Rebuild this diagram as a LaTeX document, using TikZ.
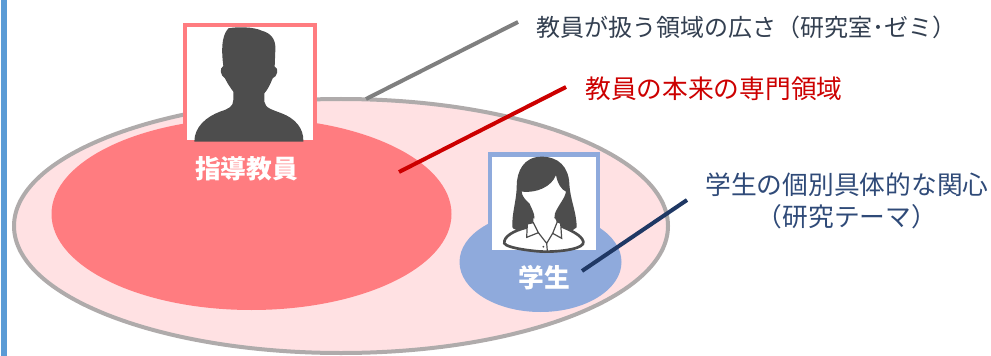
\documentclass[tikz,border=0pt]{standalone}
\usepackage{fontspec}
\setmainfont{Noto Sans CJK JP}
\definecolor{barblue}{HTML}{5B9BD5}
\definecolor{outerfill}{HTML}{FFE1E3}
\definecolor{outerline}{HTML}{AFABAB}
\definecolor{pinkred}{HTML}{FF7C80}
\definecolor{softblue}{HTML}{8FAADC}
\definecolor{navy}{HTML}{1F3864}
\definecolor{navytext}{HTML}{2F4A78}
\definecolor{darkred}{HTML}{CC0000}
\definecolor{silh}{HTML}{4D4D4D}
\definecolor{inktext}{HTML}{333F50}
\definecolor{linegray}{HTML}{7F7F7F}
\tikzset{
  lbl/.style={inner sep=0pt,font=\fontsize{18}{24}\selectfont,align=center},
  biglbl/.style={inner sep=0pt,font=\fontsize{19.3}{24}\selectfont,align=center},
  inlbl/.style={inner sep=0pt,font=\fontsize{19.3}{23}\selectfont\bfseries,text=white},
  leader/.style={line width=3pt},
  photo/.style={fill=white,line width=3pt},
  silhouette/.style={fill=silh,draw=none}
}
\begin{document}
\begin{tikzpicture}[x=0.75pt,y=-0.75pt]
\useasboundingbox (0,0) rectangle (991,356);
\fill[barblue] (1,0) rectangle (7,356);
\draw[fill=outerfill,draw=outerline,line width=3pt] (341,226) ellipse [x radius=327,y radius=127];
\fill[pinkred] (251.5,214) ellipse [x radius=200,y radius=96];
\fill[softblue] (540.5,262) ellipse [x radius=81,y radius=50];
% teacher photo
\path[photo,draw=pinkred] (185,25.5) -- (314.5,25.5) -- (314.5,142) -- (185,142) -- cycle;
\begin{scope}[shift={(170,10)},x=0.25pt,y=-0.25pt]
\fill[silhouette] (73,395) .. controls (73,350) and (110,320) .. (150,305)
 .. controls (175,297) and (190,290) .. (190,270)
 -- (190,245) .. controls (175,225) and (170,215) .. (165,205)
 .. controls (150,195) and (148,175) .. (160,168)
 .. controls (155,130) and (152,80) .. (175,55)
 .. controls (200,50) and (250,50) .. (275,62)
 .. controls (305,70) and (318,90) .. (316,120)
 -- (314,170) .. controls (328,175) and (322,200) .. (308,205)
 .. controls (300,225) and (292,240) .. (283,250)
 -- (283,275) .. controls (285,295) and (310,300) .. (335,310)
 .. controls (375,325) and (402,355) .. (400,395) -- cycle;
\end{scope}
% student photo
\path[photo,draw=softblue] (490,154.5) -- (597.5,154.5) -- (597.5,252) -- (490,252) -- cycle;
\begin{scope}[shift={(470,140)},x=0.25pt,y=-0.25pt]
\fill[silhouette] (215,50) .. controls (160,50) and (140,95) .. (140,140)
 .. controls (140,180) and (125,220) .. (127,262)
 .. controls (135,275) and (170,275) .. (190,255)
 .. controls (200,235) and (190,215) .. (178,190)
 .. controls (165,180) and (155,165) .. (155,155)
 .. controls (200,160) and (245,140) .. (258,105)
 .. controls (262,130) and (275,150) .. (288,155)
 .. controls (285,175) and (265,195) .. (255,220)
 .. controls (250,240) and (255,255) .. (270,260)
 .. controls (285,275) and (310,275) .. (320,262)
 .. controls (320,215) and (300,180) .. (298,130)
 .. controls (295,80) and (265,50) .. (215,50) -- cycle;
\draw[silh,line width=2pt,fill=white] (172,262)
 .. controls (130,272) and (100,290) .. (103,310)
 .. controls (110,325) and (200,335) .. (225,335)
 .. controls (280,335) and (345,325) .. (340,305)
 .. controls (335,285) and (300,270) .. (272,258)
 -- cycle;
\fill[white] (190,235) -- (255,235) -- (262,250) -- (230,310) -- (190,250) -- cycle;
\draw[silh,line width=0.9pt,fill=white] (172,252) -- (170,292) -- (205,278) -- (190,248) -- cycle;
\draw[silh,line width=0.9pt,fill=white] (272,250) -- (275,295) -- (248,280) -- (262,245) -- cycle;
\draw[silh,line width=0.9pt] (205,278) -- (230,310) -- (248,280);
\draw[silh,line width=0.9pt] (230,310) -- (232,333);
\fill[silh] (220,320) circle [radius=3];
\end{scope}
% labels
\node[inlbl] (teacher) at (246.5,169) {指導教員};
\node[inlbl] (student) at (544,278) {学生};
\node[lbl,text=inktext,anchor=west] (range) at (536,27) {教員が扱う領域の広さ（研究室･ゼミ）};
\node[biglbl,text=darkred,anchor=west] (core) at (585,89) {教員の本来の専門領域};
\node[biglbl,text=navytext] (interest) at (847,201) {学生の個別具体的な関心\\（研究テーマ）};
% leaders
\coordinate (a1) at (366,99);
\coordinate (a2) at (518,22);
\coordinate (b1) at (399,172);
\coordinate (b2) at (566,87);
\coordinate (c1) at (582,271);
\coordinate (c2) at (687,200);
\draw[leader,linegray] (a1) -- (a2);
\draw[leader,darkred] (b1) -- (b2);
\draw[leader,navy] (c1) -- (c2);
\end{tikzpicture}
\end{document}
